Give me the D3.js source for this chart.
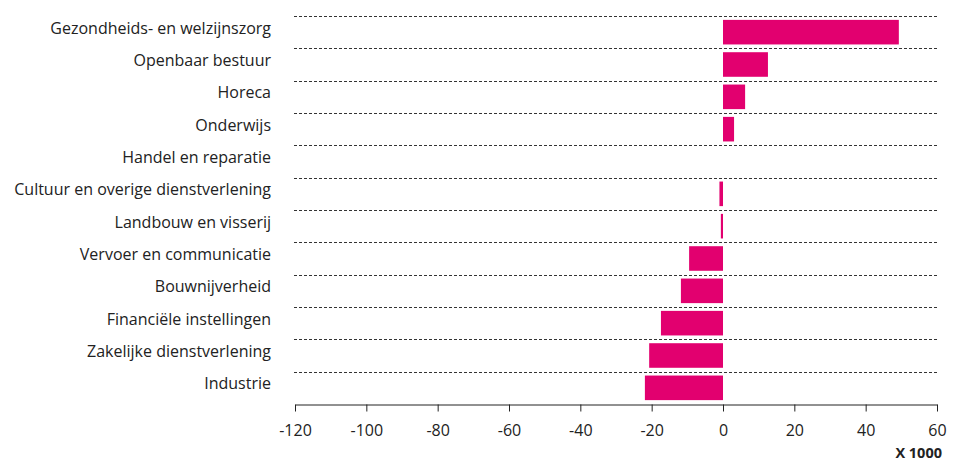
<!DOCTYPE html>
<html>
<head>
<meta charset="utf-8">
<script src="https://cdn.jsdelivr.net/npm/d3@7"></script>
<style>
  body { margin: 0; background: #fff; }
  text { font-family: "Open Sans", Lato, sans-serif; fill: #222; }
</style>
</head>
<body>
<div id="chart"></div>
<script>
const categories = [
    "Gezondheids- en welzijnszorg",
    "Openbaar bestuur",
    "Horeca",
    "Onderwijs",
    "Handel en reparatie",
    "Cultuur en overige dienstverlening",
    "Landbouw en visserij",
    "Vervoer en communicatie",
    "Bouwnijverheid",
    "Financiële instellingen",
    "Zakelijke dienstverlening",
    "Industrie"
];
const values = [49.3, 12.6, 6.2, 3.1, 0, -1.0, -0.6, -9.5, -11.8, -17.4, -20.7, -21.9];
const ticks = [-120, -100, -80, -60, -40, -20, 0, 20, 40, 60];

const width = 953;
const height = 463;
const plotLeft = 295, plotRight = 937, plotTop = 16, plotBottom = 404;

const svg = d3.select("#chart")
    .append("svg")
    .attr("width", width)
    .attr("height", height);

const x = d3.scaleLinear()
    .domain([-120, 60])
    .range([plotLeft, plotRight]);

const y = d3.scaleBand()
    .domain(categories)
    .range([plotTop, plotBottom])
    .paddingInner(0.24)
    .paddingOuter(0.12);

// dashed line at the top of each band
const gap = y.step() * y.paddingOuter();
svg.selectAll("line.grid")
    .data(categories)
    .enter()
    .append("line")
    .attr("class", "grid")
    .attr("x1", plotLeft - 1)
    .attr("x2", plotRight + 1)
    .attr("y1", d => Math.round(y(d) - gap) + 0.5)
    .attr("y2", d => Math.round(y(d) - gap) + 0.5)
    .attr("stroke", "#333")
    .attr("stroke-width", 1)
    .attr("stroke-dasharray", "3,2");

svg.selectAll("rect")
    .data(values)
    .enter()
    .append("rect")
    .attr("x", d => x(Math.min(0, d)))
    .attr("y", (d, i) => y(categories[i]))
    .attr("width", d => Math.abs(x(d) - x(0)))
    .attr("height", y.bandwidth())
    .attr("fill", "#e2006f");

svg.selectAll("text.cat")
    .data(categories)
    .enter()
    .append("text")
    .attr("class", "cat")
    .attr("x", 271)
    .attr("y", d => y(d) + y.bandwidth() / 2 - 4)
    .attr("dy", "0.35em")
    .attr("text-anchor", "end")
    .style("font-size", "16px")
    .text(d => d);

const axis = svg.append("g")
    .attr("transform", `translate(0,${plotBottom + 0.5})`)
    .call(d3.axisBottom(x).tickValues(ticks).tickFormat(d => String(d))
        .tickSize(7).tickSizeOuter(0).tickPadding(13));
axis.select(".domain").attr("stroke", "#222");
axis.selectAll(".tick line").attr("stroke", "#222");
axis.selectAll(".tick text")
    .style("font-size", "16px")
    .style("font-family", "'Open Sans', Lato, sans-serif")
    .attr("fill", "#222");

svg.append("text")
    .attr("x", 942)
    .attr("y", 458)
    .attr("text-anchor", "end")
    .style("font-size", "14.5px")
    .style("font-weight", "bold")
    .text("X 1000");
</script>
</body>
</html>
